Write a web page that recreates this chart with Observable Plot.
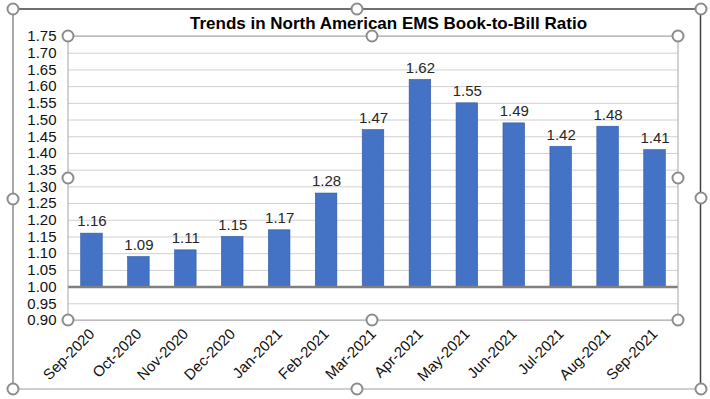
<!DOCTYPE html>
<html><head><meta charset="utf-8">
<script src="https://cdn.jsdelivr.net/npm/d3@7"></script>
<script src="https://cdn.jsdelivr.net/npm/@observablehq/plot@0.6"></script>
<style>
body{margin:0;background:#fff;}
#wrap{position:relative;width:710px;height:399px;font-family:"Liberation Sans",Arial,sans-serif;}
#wrap svg{position:absolute;left:0;top:0;}
</style></head><body><div id="wrap"></div>
<script>
const title = "Trends in North American EMS Book-to-Bill Ratio";
const months = ["Sep-2020","Oct-2020","Nov-2020","Dec-2020","Jan-2021","Feb-2021","Mar-2021","Apr-2021","May-2021","Jun-2021","Jul-2021","Aug-2021","Sep-2021"];
const ratios = [1.16,1.09,1.11,1.15,1.17,1.28,1.47,1.62,1.55,1.49,1.42,1.48,1.41];
const yTicks = [0.90,0.95,1.00,1.05,1.10,1.15,1.20,1.25,1.30,1.35,1.40,1.45,1.50,1.55,1.60,1.65,1.70,1.75];
const baseline = 1.00;

const data = months.map((m, i) => ({month: m, ratio: ratios[i]}));

const chart = Plot.plot({
  width: 710, height: 399,
  marginLeft: 68, marginRight: 32, marginTop: 36, marginBottom: 79,
  style: {fontFamily: "'Liberation Sans', Arial, sans-serif", fontSize: "15px", color: "#111", background: "transparent"},
  x: {domain: months, paddingInner: 0.54, paddingOuter: 0.27, round: false, label: null, tickSize: 0, tickRotate: -45, tickPadding: 11},
  y: {domain: [0.9, 1.75], ticks: yTicks, tickFormat: d3.format(".2f"), label: null, tickSize: 0, tickPadding: 12},
  marks: [
    Plot.ruleY(yTicks, {stroke: "#d0d0d0", strokeWidth: 1}),
    Plot.barY(data, {x: "month", y1: baseline, y2: "ratio", fill: "#4472c4", stroke: "#2f5ba8", strokeWidth: 0.6}),
    Plot.ruleY([baseline], {stroke: "#808080", strokeWidth: 2.5}),
    Plot.text(data, {x: "month", y: "ratio", text: d => d.ratio.toFixed(2), dy: -12, fontSize: 15, fill: "#262626"}),
    Plot.text([title], {frameAnchor: "top", lineAnchor: "middle", dy: -13, dx: 15, fontWeight: "bold", fontSize: 17, fill: "#000"})
  ]
});
document.getElementById("wrap").appendChild(chart);

// Selection outline and handles (decoration of the screenshot)
const ov = d3.select("#wrap").append("svg").attr("width", 710).attr("height", 399);
ov.append("rect").attr("x", 68).attr("y", 36).attr("width", 610).attr("height", 284)
  .attr("fill", "none").attr("stroke", "#a6a6a6").attr("stroke-width", 1);
ov.append("line").attr("x1", 13).attr("y1", 9).attr("x2", 701).attr("y2", 9).attr("stroke", "#404040").attr("stroke-width", 1.5);
ov.append("line").attr("x1", 700.5).attr("y1", 9).attr("x2", 700.5).attr("y2", 389).attr("stroke", "#404040").attr("stroke-width", 1.5);
ov.append("line").attr("x1", 13).attr("y1", 9).attr("x2", 13).attr("y2", 389).attr("stroke", "#8c8c8c").attr("stroke-width", 1.5);
ov.append("line").attr("x1", 13).attr("y1", 389).attr("x2", 701).attr("y2", 389).attr("stroke", "#bfbfbf").attr("stroke-width", 1.5);
const handles = [[13,9],[357,9],[701,9],[13,199],[701,198],[13,389],[357,389],[701,389],
  [68,36],[372,36],[678,36],[68,178],[678,178],[68,320],[372,320],[678,320]];
ov.selectAll("circle").data(handles).join("circle")
  .attr("cx", d => d[0]).attr("cy", d => d[1]).attr("r", 5.5)
  .attr("fill", "#fff").attr("stroke", "#8c8c8c").attr("stroke-width", 2);
</script>
</body></html>
